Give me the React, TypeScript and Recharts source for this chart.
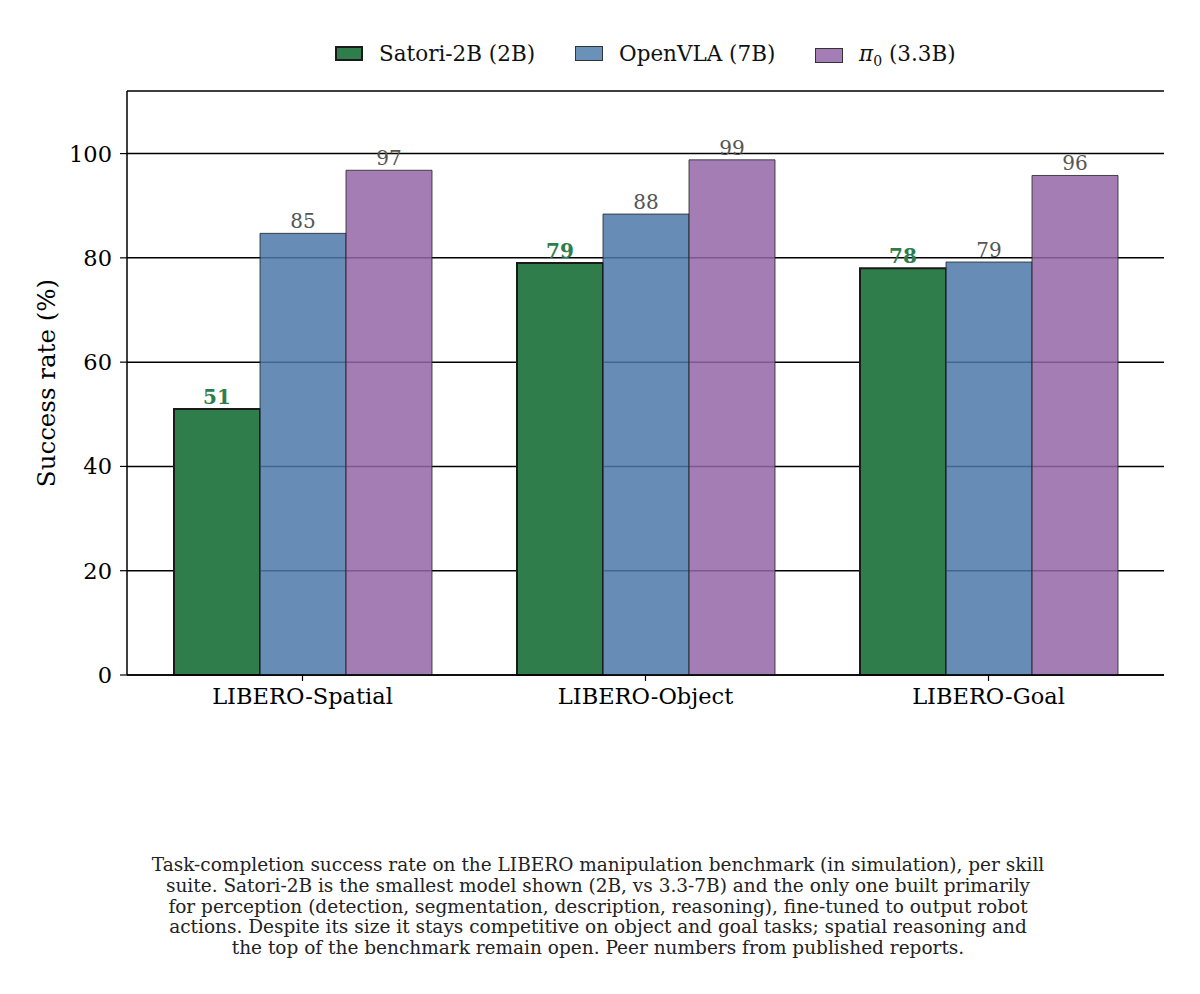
import { Bar, BarChart, CartesianGrid, LabelList, XAxis, YAxis } from 'recharts'

const FONT = '"DejaVu Serif", serif'
const GREEN = '#2e7d4a'
const BLUE = '#4c78a8'
const PURPLE = '#9566a8'

const suites = ['LIBERO-Spatial', 'LIBERO-Object', 'LIBERO-Goal']
const satori = [51, 79, 78]
const openvla = [84.7, 88.4, 79.2]
const pi0 = [96.8, 98.8, 95.8]
const yTicks = [0, 20, 40, 60, 80, 100]

const data = suites.map((suite, i) => ({
  suite,
  satori: satori[i],
  openvla: openvla[i],
  pi0: pi0[i],
}))

const captionLines = [
  'Task-completion success rate on the LIBERO manipulation benchmark (in simulation), per skill',
  'suite. Satori-2B is the smallest model shown (2B, vs 3.3-7B) and the only one built primarily',
  'for perception (detection, segmentation, description, reasoning), fine-tuned to output robot',
  'actions. Despite its size it stays competitive on object and goal tasks; spatial reasoning and',
  'the top of the benchmark remain open. Peer numbers from published reports.',
]

function Swatch({ color, edge, width }: { color: string; edge: string; width: number }) {
  return (
    <span
      style={{
        display: 'inline-block',
        width: 28,
        height: 15,
        background: color,
        border: `${width}px solid ${edge}`,
        boxSizing: 'border-box',
        marginRight: 16,
      }}
    />
  )
}

const legendItem = (left: number): React.CSSProperties => ({
  position: 'absolute',
  left,
  top: 0,
  display: 'flex',
  alignItems: 'center',
  whiteSpace: 'nowrap',
})

export default function App() {
  const round = (v: unknown) => Math.round(Number(v))
  return (
    <div style={{ position: 'relative', width: 1200, height: 994, margin: -8, background: '#fff', fontFamily: FONT }}>
      <div style={{ position: 'absolute', top: 41, left: 0, width: 1200, height: 28, fontSize: 21.5, color: '#111' }}>
        <span style={legendItem(335)}>
          <Swatch color={GREEN} edge="#1a1a1a" width={2} />
          Satori-2B (2B)
        </span>
        <span style={legendItem(575)}>
          <Swatch color="#6a91b8" edge="#333" width={1} />
          OpenVLA (7B)
        </span>
        <span style={legendItem(815)}>
          <Swatch color="#a47db6" edge="#333" width={1} />
          <span>
            <i>π</i>
            <sub style={{ fontSize: 14 }}>0</sub> (3.3B)
          </span>
        </span>
      </div>

      <div style={{ position: 'absolute', top: 0, left: 0 }}>
        <BarChart
          width={1200}
          height={720}
          data={data}
          margin={{ top: 91, right: 36, bottom: 12, left: 0 }}
          barCategoryGap={43}
          barGap={0}
        >
          <CartesianGrid horizontal vertical={false} stroke="#000" strokeWidth={1.5} />
          <XAxis
            dataKey="suite"
            padding={{ left: 4, right: 4 }}
            axisLine={{ stroke: '#000', strokeWidth: 1.5 }}
            tickLine={{ stroke: '#000', strokeWidth: 1.2 }}
            tickSize={6}
            tickMargin={7}
            height={33}
            tick={{ fontSize: 22.5, fill: '#000', fontFamily: FONT }}
          />
          <YAxis
            width={127}
            domain={[0, 112]}
            ticks={yTicks}
            axisLine={{ stroke: '#000', strokeWidth: 1.5 }}
            tickLine={{ stroke: '#000', strokeWidth: 1.2 }}
            tickSize={7}
            tickMargin={8}
            tick={{ fontSize: 22.5, fill: '#000', fontFamily: FONT }}
            label={{
              value: 'Success rate (%)',
              angle: -90,
              position: 'center',
              dx: -17,
              style: { fontSize: 24.5, fill: '#000', fontFamily: FONT },
            }}
          />
          <Bar dataKey="satori" fill={GREEN} stroke="#1a1a1a" strokeWidth={2} isAnimationActive={false}>
            <LabelList
              dataKey="satori"
              position="top"
              offset={5}
              formatter={round}
              style={{ fontSize: 20, fontWeight: 'bold', fill: GREEN, fontFamily: FONT }}
            />
          </Bar>
          <Bar
            dataKey="openvla"
            fill={BLUE}
            fillOpacity={0.85}
            stroke="#222"
            strokeWidth={0.8}
            isAnimationActive={false}
          >
            <LabelList
              dataKey="openvla"
              position="top"
              offset={5}
              formatter={round}
              style={{ fontSize: 20, fill: '#555', fontFamily: FONT }}
            />
          </Bar>
          <Bar
            dataKey="pi0"
            fill={PURPLE}
            fillOpacity={0.85}
            stroke="#222"
            strokeWidth={0.8}
            isAnimationActive={false}
          >
            <LabelList
              dataKey="pi0"
              position="top"
              offset={5}
              formatter={round}
              style={{ fontSize: 20, fill: '#555', fontFamily: FONT }}
            />
          </Bar>
        </BarChart>
      </div>

      <div
        style={{
          position: 'absolute',
          top: 855,
          left: 98,
          width: 1000,
          textAlign: 'center',
          fontSize: 18.5,
          lineHeight: '20.8px',
          color: '#222',
          whiteSpace: 'nowrap',
        }}
      >
        {captionLines.map((line) => (
          <div key={line}>{line}</div>
        ))}
      </div>
    </div>
  )
}
